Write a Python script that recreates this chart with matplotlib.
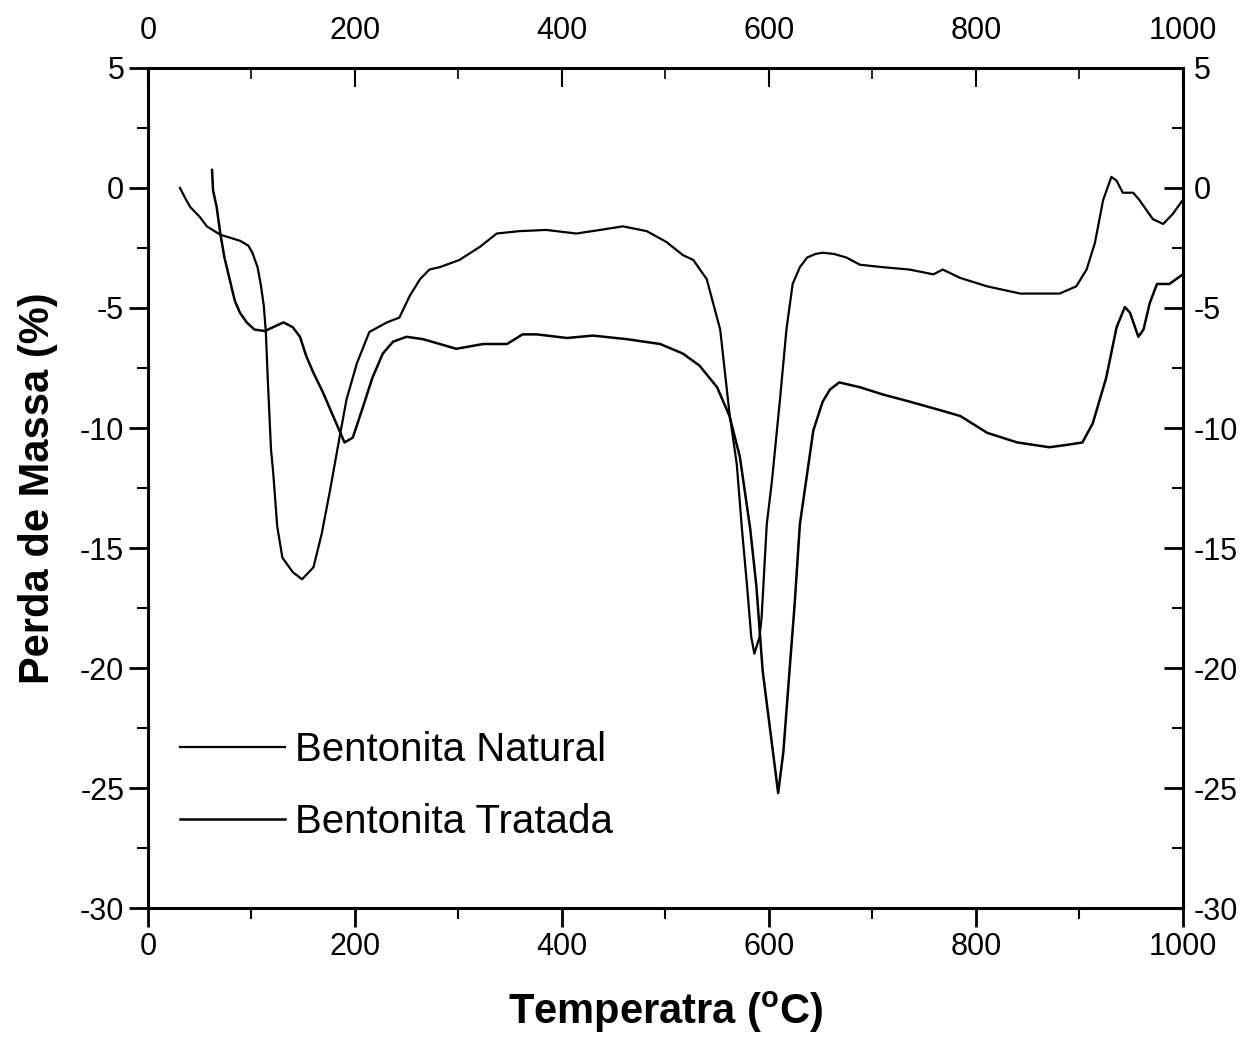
import matplotlib
matplotlib.use('Agg')
import matplotlib.pyplot as plt
from matplotlib.ticker import MultipleLocator

plt.rcParams['font.family'] = ['Liberation Sans', 'DejaVu Sans']
plt.rcParams['mathtext.fontset'] = 'custom'
plt.rcParams['mathtext.rm'] = 'Liberation Sans'
plt.rcParams['axes.unicode_minus'] = False

# curva superior (pico ~586 C)
temp_natural = [31, 37, 41, 50, 57, 70, 89, 97, 101, 106, 109, 112, 114, 116, 119, 121, 125,
                130, 140, 149, 160, 168, 176, 186, 192, 202, 214, 231, 243, 253, 263,
                272, 282, 301, 321, 337, 359, 385, 414, 437, 459, 482, 501, 517, 527,
                540, 553, 562, 569, 574, 579, 583, 586, 591, 593, 598, 603, 611, 617,
                623, 630, 637, 645, 652, 663, 675, 688, 710, 736, 759, 768, 785, 811,
                843, 881, 897, 907, 915, 923, 931, 936, 942, 952, 958, 971, 981, 990, 1000]
perda_natural = [0.0, -0.5, -0.8, -1.2, -1.6, -1.95, -2.2, -2.4, -2.7, -3.3, -4.0, -4.9,
                 -6.0, -8.1, -10.9, -11.8, -14.1, -15.4, -16.0, -16.3, -15.8, -14.4, -12.6,
                 -10.2, -8.8, -7.3, -6.0, -5.6, -5.4, -4.5, -3.8, -3.4, -3.3, -3.0,
                 -2.45, -1.9, -1.8, -1.75, -1.9, -1.75, -1.6, -1.8, -2.25, -2.8, -3.0,
                 -3.8, -5.9, -9.4, -11.5, -14.2, -16.6, -18.7, -19.4, -18.7, -17.9,
                 -14.0, -12.2, -8.7, -5.9, -4.0, -3.3, -2.9, -2.75, -2.7, -2.75, -2.9,
                 -3.2, -3.3, -3.4, -3.6, -3.4, -3.75, -4.1, -4.4, -4.4, -4.1, -3.4, -2.3,
                 -0.5, 0.46, 0.3, -0.2, -0.2, -0.5, -1.3, -1.5, -1.1, -0.5]

# curva inferior (pico ~609 C)
temp_tratada = [62, 63, 66.5, 70, 74, 79, 84, 89, 95.5, 103, 113, 121, 131, 140, 147, 153,
                160, 169, 178, 186, 190, 198, 208, 217, 227, 237, 250, 266, 282, 298,
                324, 347, 362, 376, 405, 430, 463, 495, 517, 533, 550, 562, 572, 582,
                588, 594, 604, 609, 614, 620, 625, 630, 643, 652, 659, 668, 688, 710, 736,
                765, 785, 811, 840, 871, 888, 903, 913, 926, 936, 944, 949, 957, 962,
                968, 975, 987, 1000]
perda_tratada = [0.75, -0.1, -0.8, -1.9, -2.9, -3.8, -4.7, -5.2, -5.6, -5.9, -5.96, -5.8,
                 -5.6, -5.8, -6.2, -7.0, -7.7, -8.5, -9.4, -10.2, -10.6, -10.4, -9.1,
                 -7.9, -6.9, -6.4, -6.2, -6.3, -6.5, -6.7, -6.5, -6.5, -6.1, -6.1,
                 -6.25, -6.15, -6.3, -6.5, -6.9, -7.4, -8.3, -9.5, -11.2, -14.2, -16.6,
                 -20.1, -23.5, -25.2, -23.5, -20.1, -17.3, -14.0, -10.1, -8.9, -8.4, -8.1,
                 -8.3, -8.6, -8.9, -9.25, -9.5, -10.2, -10.6, -10.8, -10.7, -10.6,
                 -9.8, -7.9, -5.8, -4.96, -5.2, -6.2, -5.9, -4.8, -4.0, -4.0, -3.6]

x_ticks = [0, 200, 400, 600, 800, 1000]
y_ticks = [5, 0, -5, -10, -15, -20, -25, -30]

fig = plt.figure(figsize=(12.53, 10.44), dpi=100)
ax = fig.add_axes([0.118, 0.130, 0.826, 0.805])

ax.plot(temp_natural, perda_natural, color='black', lw=1.6, label='Bentonita Natural')
ax.plot(temp_tratada, perda_tratada, color='black', lw=1.8, label='Bentonita Tratada')

ax.set_xlim(0, 1000)
ax.set_ylim(-30, 5)
ax.set_xticks(x_ticks)
ax.set_yticks(y_ticks)
ax.xaxis.set_minor_locator(MultipleLocator(100))
ax.yaxis.set_minor_locator(MultipleLocator(2.5))
ax.tick_params(which='major', direction='out', length=14, width=2, labelsize=22, pad=3)
ax.tick_params(which='minor', direction='out', length=8, width=1.5)
for s in ax.spines.values():
    s.set_linewidth(2.2)

top = ax.secondary_xaxis('top')
top.set_xticks(x_ticks)
top.xaxis.set_minor_locator(MultipleLocator(100))
top.tick_params(which='major', direction='in', length=14, width=1.5, labelsize=22, pad=16)
top.tick_params(which='minor', direction='in', length=8, width=1.2)

right = ax.secondary_yaxis('right')
right.set_yticks(y_ticks)
right.yaxis.set_minor_locator(MultipleLocator(2.5))
right.tick_params(which='major', direction='in', length=14, width=2, labelsize=22, pad=8)
right.tick_params(which='minor', direction='in', length=8, width=1.5)

ax.set_xlabel('Temperatra ($^{\\mathregular{o}}$C)', fontsize=30, fontweight='bold', labelpad=20)
ax.set_ylabel('Perda de Massa (%)', fontsize=30, fontweight='bold', labelpad=16)

ax.legend(loc='upper left', bbox_to_anchor=(0.012, 0.235), frameon=False, fontsize=29,
          handlelength=2.6, handletextpad=0.25, labelspacing=0.85, borderpad=0)

fig.savefig('out.png', dpi=100)
